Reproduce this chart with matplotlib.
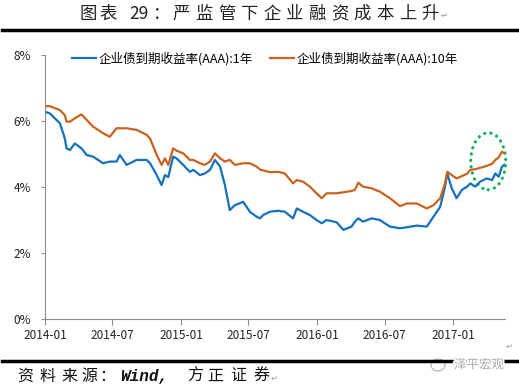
import numpy as np
import pandas as pd
import matplotlib
matplotlib.use('Agg')
import matplotlib.pyplot as plt
import matplotlib.dates as mdates
from matplotlib.patches import Ellipse
import matplotlib.patheffects as pe

plt.rcParams['font.family'] = ['Noto Sans CJK SC', 'DejaVu Sans']

# ---- data ----
dates = ['2014-01-01', '2014-01-14', '2014-02-10', '2014-02-23', '2014-02-28', '2014-03-09',
         '2014-03-22', '2014-04-09', '2014-04-23', '2014-05-10', '2014-06-06', '2014-06-24',
         '2014-07-12', '2014-07-21', '2014-08-08', '2014-09-04', '2014-10-01', '2014-10-10',
         '2014-10-28', '2014-11-10', '2014-11-19', '2014-11-28', '2014-12-11', '2014-12-20',
         '2015-01-07', '2015-01-25', '2015-02-03', '2015-02-21', '2015-03-06', '2015-03-20',
         '2015-04-02', '2015-04-16', '2015-04-29', '2015-05-12', '2015-05-26', '2015-06-17',
         '2015-07-05', '2015-07-23', '2015-08-01', '2015-08-10', '2015-08-28', '2015-09-19',
         '2015-10-07', '2015-10-29', '2015-11-08', '2015-11-25', '2015-12-13', '2015-12-31',
         '2016-01-14', '2016-01-27', '2016-02-23', '2016-03-12', '2016-04-03', '2016-04-12',
         '2016-04-21', '2016-05-04', '2016-05-27', '2016-06-18', '2016-07-15', '2016-08-11',
         '2016-08-29', '2016-09-25', '2016-10-22', '2016-11-09', '2016-11-27', '2016-12-10',
         '2016-12-16', '2016-12-28', '2017-01-10', '2017-01-24', '2017-02-07', '2017-02-16',
         '2017-03-01', '2017-03-14', '2017-04-01', '2017-04-15', '2017-04-24', '2017-05-03',
         '2017-05-12', '2017-05-18']

yield_1y = [6.28, 6.23, 5.93, 5.48, 5.17, 5.12, 5.32, 5.17, 4.97, 4.92, 4.72, 4.77,
            4.77, 4.97, 4.67, 4.82, 4.82, 4.72, 4.36, 4.06, 4.36, 4.30, 4.92, 4.87,
            4.67, 4.46, 4.52, 4.36, 4.41, 4.52, 4.82, 4.62, 4.06, 3.30, 3.45, 3.55,
            3.25, 3.10, 3.05, 3.15, 3.25, 3.28, 3.25, 3.05, 3.35, 3.25, 3.15, 3.00,
            2.90, 3.00, 2.93, 2.70, 2.80, 2.95, 3.05, 2.95, 3.05, 3.00, 2.80, 2.75,
            2.78, 2.83, 2.80, 3.10, 3.40, 4.01, 4.41, 3.96, 3.66, 3.91, 4.01, 4.11,
            4.01, 4.16, 4.26, 4.21, 4.41, 4.31, 4.62, 4.67]

yield_10y = [6.45, 6.45, 6.33, 6.18, 5.98, 5.98, 6.08, 6.20, 6.03, 5.83, 5.63, 5.52,
             5.78, 5.78, 5.78, 5.73, 5.58, 5.47, 4.97, 4.67, 4.87, 4.67, 5.17, 5.10,
             5.02, 4.82, 4.82, 4.72, 4.67, 4.77, 5.02, 4.87, 4.77, 4.82, 4.67, 4.72,
             4.72, 4.62, 4.53, 4.50, 4.45, 4.46, 4.41, 4.11, 4.21, 4.16, 4.01, 3.81,
             3.66, 3.81, 3.81, 3.84, 3.88, 3.91, 4.13, 4.01, 3.96, 3.86, 3.66, 3.42,
             3.50, 3.50, 3.35, 3.45, 3.66, 4.11, 4.46, 4.36, 4.26, 4.33, 4.40, 4.52,
             4.54, 4.58, 4.64, 4.70, 4.82, 4.90, 5.07, 5.02]

series_names = ['企业债到期收益率(AAA):1年', '企业债到期收益率(AAA):10年']
x_ticks = ['2014-01', '2014-07', '2015-01', '2015-07', '2016-01', '2016-07', '2017-01']
y_ticks = [0, 2, 4, 6, 8]

title_text = ['图', '表', '29', '：'] + list('严监管下企业融资成本上升')
source_text = ['资', '料', '来', '源', '：', 'Wind,', '方', '正', '证', '券']

# ---- figure ----
W, H = 519, 389
fig = plt.figure(figsize=(W / 100, H / 100), dpi=100, facecolor='white')


def fx(x):
    return x / W


def fy(y):
    return 1 - y / H


ax = fig.add_axes([fx(45), fy(319), fx(505) - fx(45), fy(55) - fy(319)])

d = pd.to_datetime(dates)
blue = '#1570BE'
orange = '#C9611F'
ax.plot(d, yield_1y, color=blue, lw=1.6, label=series_names[0])
ax.plot(d, yield_10y, color=orange, lw=1.6, label=series_names[1])

ax.set_ylim(0, 8)
ax.set_yticks(y_ticks)
ax.set_yticklabels(['{}%'.format(v) for v in y_ticks])
ax.set_xlim(pd.Timestamp('2014-01-01'), pd.Timestamp('2017-05-20'))
ax.set_xticks(pd.to_datetime(x_ticks))
ax.xaxis.set_major_formatter(mdates.DateFormatter('%Y-%m'))

for s in ['top', 'right']:
    ax.spines[s].set_visible(False)
for s in ['left', 'bottom']:
    ax.spines[s].set_color('#8c8c8c')
    ax.spines[s].set_linewidth(0.8)
ax.tick_params(axis='y', direction='out', length=3, width=0.8, color='#8c8c8c',
               labelsize=8.5, labelcolor='#222222', pad=7)
ax.tick_params(axis='x', direction='out', length=4, width=0.8, color='#8c8c8c',
               labelsize=8.5, labelcolor='#222222', pad=3)

# green dotted ellipse around the latest rise
ell = Ellipse((mdates.date2num(pd.Timestamp('2017-04-05')), 4.78), width=94, height=1.73,
              fill=False, edgecolor='#00B050', linewidth=2.3, linestyle=(0, (0.01, 2.0)),
              capstyle='round', clip_on=False)
ax.add_patch(ell)

ax.legend(loc='center left', bbox_to_anchor=(fx(72), fy(59)), bbox_transform=fig.transFigure,
          ncol=2, frameon=False, fontsize=9, handlelength=1.9, handletextpad=0.2,
          columnspacing=1.4, borderpad=0, borderaxespad=0)

# ---- title / source ----
title_x = [88.5, 108.5, 139, 162] + [181.5 + 22.6 * i for i in range(12)]
for t, x in zip(title_text, title_x):
    fig.text(fx(x), fy(14), t, ha='center', va='center', fontsize=12.5, color='#222222')
fig.text(fx(444), fy(15), '↵', ha='center', va='center', fontsize=6, color='#999999',
         family=['DejaVu Sans'])
fig.add_artist(plt.Line2D([fx(2), fx(517)], [fy(30), fy(30)], color='black', lw=2.5))
fig.add_artist(plt.Line2D([fx(2), fx(517)], [fy(361), fy(361)], color='black', lw=2.5))

source_x = [25, 47.5, 69.5, 89.5, 107, 144, 195, 215.5, 238.5, 261]
for t, x in zip(source_text, source_x):
    fam = ['Liberation Mono'] if t == 'Wind,' else ['Noto Sans CJK SC', 'DejaVu Sans']
    fig.text(fx(x), fy(376), t, ha='center', va='center', fontsize=11.5, color='#111111',
             style='italic', weight='bold' if t == 'Wind,' else 'normal', family=fam)
fig.text(fx(274), fy(378), '↵', ha='center', va='center', fontsize=6, color='#999999',
         family=['DejaVu Sans'])
fig.text(fx(509), fy(346), '↵', ha='center', va='center', fontsize=6, color='#999999',
         family=['DejaVu Sans'])

# watermark
wm = fig.text(fx(479), fy(365), '泽平宏观', ha='center', va='center', fontsize=9,
              color='#a8a8a8')
wm.set_path_effects([pe.withStroke(linewidth=2.5, foreground='white')])
fig.add_artist(Ellipse((fx(438), fy(365)), width=fx(14), height=12 / H, fill=False,
                       edgecolor='#b0b0b0', lw=0.8, transform=fig.transFigure))

fig.savefig('out.png', dpi=100, facecolor='white')
